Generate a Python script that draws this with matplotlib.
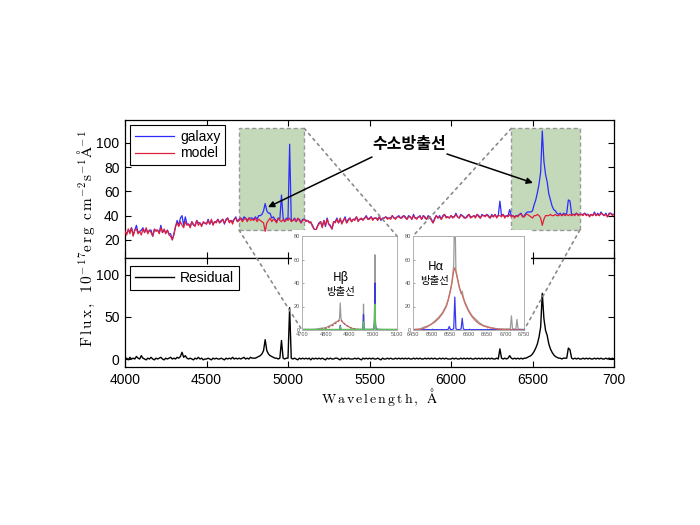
import numpy as np
import matplotlib
matplotlib.use('Agg')
import matplotlib.pyplot as plt
from matplotlib.patches import Rectangle, ConnectionPatch

plt.rcParams['font.family'] = ['Liberation Sans', 'DejaVu Sans']
plt.rcParams['mathtext.fontset'] = 'cm'

# ---------------- data ----------------
WL_START, WL_STOP, WL_STEP = 4000, 7000, 10

# stellar model flux (10 A sampling, 4000..7000)
MODEL = [
    27, 24, 29, 25, 30, 23, 28, 29, 25, 27,   # 4000
    24, 29, 26, 30, 25, 28, 26, 23, 29, 27,   # 4100
    28, 25, 30, 26, 29, 25, 28, 24, 23, 20,   # 4200
    24, 31, 34, 31, 35, 32, 30, 35, 32, 33,   # 4300
    30, 35, 33, 31, 36, 32, 34, 31, 35, 34,   # 4400
    33, 36, 33, 37, 32, 35, 34, 37, 34, 35,   # 4500
    37, 34, 36, 38, 34, 36, 33, 37, 38, 35,   # 4600
    36, 38, 35, 37, 38, 35, 38, 36, 37, 36,   # 4700
    38, 35, 37, 36, 35, 34, 27, 34, 36, 38,   # 4800
    35, 37, 36, 34, 38, 36, 35, 37, 35, 37,   # 4900
    36, 38, 35, 36, 37, 35, 38, 36, 34, 36,   # 5000
    37, 35, 36, 34, 35, 31, 29, 27, 31, 33,   # 5100
    35, 30, 36, 32, 37, 33, 31, 29, 35, 34,   # 5200
    37, 34, 38, 33, 36, 38, 34, 36, 38, 35,   # 5300
    37, 36, 39, 35, 37, 38, 36, 38, 39, 37,   # 5400
    37, 39, 36, 38, 38, 36, 39, 37, 37, 38,   # 5500
    39, 37, 38, 37, 40, 38, 37, 39, 39, 38,   # 5600
    38, 40, 38, 37, 39, 39, 37, 40, 38, 37,   # 5700
    39, 39, 37, 40, 38, 37, 39, 39, 36, 34,   # 5800
    37, 40, 38, 39, 37, 39, 41, 38, 39, 38,   # 5900
    40, 38, 39, 41, 39, 38, 40, 40, 38, 38,   # 6000
    39, 41, 38, 39, 40, 38, 41, 39, 38, 40,   # 6100
    40, 39, 41, 39, 38, 40, 39, 41, 38, 40,   # 6200
    40, 39, 41, 38, 40, 39, 41, 39, 40, 38,   # 6300
    40, 39, 41, 41, 39, 39, 41, 41, 40, 39,   # 6400
    38, 40, 40, 41, 40, 38, 32, 37, 40, 40,   # 6500
    40, 41, 40, 40, 41, 40, 40, 41, 40, 41,   # 6600
    40, 41, 40, 41, 40, 41, 40, 42, 40, 41,   # 6700
    41, 40, 42, 40, 41, 39, 41, 40, 42, 40,   # 6800
    41, 40, 42, 41, 40, 41, 39, 41, 42, 40,   # 6900
    41,                                       # 7000
]

# residual = galaxy - model (emission lines)
RESIDUAL = [
    0, 1, -1, 2, 0, 1, 0, 3, 1, 0,            # 4000
    4, 1, 0, -1, 1, 0, 2, 0, -1, 1,           # 4100
    0, 1, 2, 0, -1, 1, 0, 1, 2, 0,            # 4200
    1, 0, 2, 1, 3, 8, 2, 4, 1, 0,             # 4300
    1, 0, -1, 1, 0, 2, 0, 1, -1, 0,           # 4400
    0, 1, 0, -1, 1, 0, 1, 0, 0, 1,            # 4500
    0, -1, 1, 0, 1, 0, 2, 0, 1, 0,            # 4600
    1, 0, 1, 2, 0, 1, 0, 2, 1, 1,             # 4700
    1, 2, 3, 4, 6, 10, 23, 10, 6, 4,          # 4800
    3, 2, 1, 1, 0, 1, 22, 1, 0, 1,            # 4900
    1, 61, 1, 0, 1, 0, -1, 1, 0, 1,           # 5000
    0, 1, 0, 1, -1, 1, 0, 1, 0, 1,            # 5100
    0, 1, 0, -1, 1, 0, 1, 0, 0, 1,            # 5200
    1, 0, -1, 1, 0, 1, 0, 1, 0, 0,            # 5300
    0, 1, 0, 1, 0, -1, 1, 0, 1, 0,            # 5400
    1, 0, 1, 0, 0, 1, 0, -1, 1, 0,            # 5500
    0, 1, 0, 1, 0, 0, 1, 0, 1, 0,             # 5600
    1, 0, 1, 0, 1, 0, 0, 1, 0, 1,             # 5700
    0, 1, 0, 0, 1, 0, 1, 0, 1, 0,             # 5800
    1, 0, 0, 1, 0, 1, 0, 1, 0, 0,             # 5900
    0, 1, 0, 1, 0, 0, 1, 0, 1, 0,             # 6000
    1, 0, 1, 0, 0, 1, 0, 1, 0, 1,             # 6100
    0, 1, 0, 1, 0, 1, 0, 0, 1, 0,             # 6200
    12, 1, 0, 1, 0, 1, 4, 1, 0, 1,            # 6300
    0, 1, 0, 1, 0, 1, 1, 2, 3, 4,             # 6400
    6, 9, 13, 18, 26, 38, 78, 48, 34, 28,     # 6500
    18, 12, 8, 5, 3, 2, 1, 1, 0, 1,           # 6600
    1, 1, 13, 11, 1, 0, 1, 0, 1, 0,           # 6700
    0, 1, 0, 1, 0, 1, 0, 0, 1, 0,             # 6800
    1, 0, 1, 0, 0, 1, 0, 1, 0, 1,             # 6900
    0,                                        # 7000
]

XTICKS = [4000, 4500, 5000, 5500, 6000, 6500, 7000]
XTICK_LABELS = ['4000', '4500', '5000', '5500', '6000', '6500', '700']
TOP_YTICKS = [20, 40, 60, 80, 100]
BOT_YTICKS = [0, 50, 100]

# zoom regions (wavelength ranges of green boxes, flux range)
BOX1 = (4700, 5100)
BOX2 = (6370, 6790)
BOX_Y = (28, 112)

# H-beta inset (decomposition)
HB_WL = [4700, 4720, 4740, 4760, 4780, 4800, 4810, 4820, 4830, 4840, 4850, 4855,
         4858, 4861, 4864, 4867, 4870, 4880, 4890, 4900, 4910, 4920, 4940, 4955,
         4957, 4959, 4961, 4963, 4980, 5000, 5003, 5005, 5007, 5009, 5011, 5020,
         5040, 5060, 5080, 5100]
HB_DATA = [0.5, 0.6, 0.5, 0.8, 1.5, 2.0, 3.0, 4.0, 5.0, 6.5, 7.5, 8.0,
           10, 23, 10, 8.0, 7.0, 5.0, 3.5, 2.5, 1.5, 1.0, 0.6, 0.8,
           3.0, 22, 3.0, 0.8, 0.6, 0.8, 2.0, 10, 64, 10, 2.0, 0.8,
           0.5, 0.5, 0.4, 0.5]
HB_BROAD = [0, 0, 0.1, 0.3, 0.8, 1.5, 2.2, 3.0, 4.0, 5.5, 7.0, 7.8,
            8.2, 8.4, 8.2, 7.8, 7.0, 5.0, 3.5, 2.3, 1.5, 1.0, 0.4, 0.2,
            0.2, 0.2, 0.1, 0.1, 0, 0, 0, 0, 0, 0, 0, 0,
            0, 0, 0, 0]
HB_NARROW = [0, 0, 0, 0, 0, 0, 0, 0, 0, 0, 0, 0,
             0.5, 4, 0.5, 0, 0, 0, 0, 0, 0, 0, 0, 0,
             1.0, 13, 1.0, 0, 0, 0, 1.0, 6, 40, 6, 1.0, 0,
             0, 0, 0, 0]
HB_WING = [0.5, 0.5, 0.5, 0.5, 0.5, 0.5, 0.5, 0.5, 0.5, 0.5, 0.5, 0.5,
           0.8, 3, 0.8, 0.5, 0.5, 0.5, 0.5, 0.5, 0.5, 0.5, 0.5, 0.5,
           1.0, 7, 1.0, 0.5, 0.5, 0.5, 1.0, 4, 22, 4, 1.0, 0.5,
           0.5, 0.5, 0.5, 0.5]

# H-alpha inset
HA_WL = [6450, 6470, 6480, 6490, 6500, 6510, 6520, 6530, 6540, 6545, 6548, 6551,
         6555, 6560, 6563, 6566, 6570, 6575, 6580, 6583, 6586, 6590, 6600, 6610,
         6620, 6630, 6640, 6650, 6660, 6680, 6700, 6713, 6716, 6719, 6728, 6731,
         6734, 6750]
HA_DATA = [0.5, 1.0, 2.5, 3.5, 5.0, 8.0, 11, 15, 21, 26, 30, 34,
           40, 55, 110, 50, 44, 36, 31, 33, 28, 24, 17, 12,
           9.0, 6.0, 4.0, 3.0, 2.0, 1.0, 0.8, 1.0, 12, 1.0, 0.8, 9.0,
           0.8, 0.5]
HA_BROAD = [0, 0.6, 1.5, 3.0, 5.0, 7.0, 10, 14, 20, 25, 29, 33,
            40, 50, 53, 50, 44, 37, 32, 30, 27, 23, 16, 11,
            7.5, 5.0, 3.5, 2.5, 1.7, 0.8, 0.4, 0.2, 0.2, 0.2, 0.1, 0.1,
            0.1, 0]
HA_NARROW = [0.3, 0.3, 0.3, 0.3, 0.3, 0.3, 0.3, 0.3, 0.3, 0.5, 3.0, 0.5,
             0.3, 1.0, 28, 1.0, 0.3, 0.3, 0.8, 10, 0.8, 0.3, 0.3, 0.3,
             0.3, 0.3, 0.3, 0.3, 0.3, 0.3, 0.3, 0.3, 0.3, 0.3, 0.3, 0.3,
             0.3, 0.3]

# ---------------- figure ----------------
W, H = 700, 525
fig = plt.figure(figsize=(7, 5.25), dpi=100)


def fx(px):
    return px / W


def fy(py):
    return 1 - py / H


wl = np.arange(WL_START, WL_STOP + 1, WL_STEP)
model = np.array(MODEL, float)
resid = np.array(RESIDUAL, float)
galaxy = model + resid

L, R = 125, 614
ax_top = fig.add_axes([fx(L), fy(258), fx(R - L), fy(120) - fy(258)])
ax_bot = fig.add_axes([fx(L), fy(367), fx(R - L), fy(258) - fy(367)])

BLUE = '#2b2bff'
RED = '#e0203a'

for b in (BOX1, BOX2):
    ax_top.add_patch(Rectangle((b[0], BOX_Y[0]), b[1] - b[0], BOX_Y[1] - BOX_Y[0],
                               facecolor='#c4d9b9', edgecolor='#999999', lw=1.0,
                               ls=(0, (3, 2)), zorder=0.5))

ax_top.plot(wl, galaxy, color=BLUE, lw=0.9, label='galaxy', zorder=2)
ax_top.plot(wl, model, color=RED, lw=0.9, label='model', zorder=3)
ax_top.set_xlim(WL_START, WL_STOP)
ax_top.set_ylim(5, 119)
ax_top.set_yticks(TOP_YTICKS)
ax_top.set_xticks(XTICKS)
ax_top.tick_params(labelbottom=False)

ax_bot.plot(wl, resid, color='k', lw=1.0, label='Residual')
ax_bot.set_xlim(WL_START, WL_STOP)
ax_bot.set_ylim(-9.5, 120)
ax_bot.set_yticks(BOT_YTICKS)
ax_bot.set_xticks(XTICKS)
ax_bot.set_xticklabels(XTICK_LABELS)

for ax in (ax_top, ax_bot):
    ax.tick_params(direction='in', top=True, right=True, length=4, width=0.8,
                   labelsize=10, pad=4)
    for s in ax.spines.values():
        s.set_linewidth(0.9)

leg_kw = dict(loc='upper left', frameon=True, fancybox=False, framealpha=1,
              edgecolor='k', fontsize=10, handlelength=2.8, handletextpad=0.45,
              borderaxespad=0, labelspacing=0.2, borderpad=0.35)
lg1 = ax_top.legend(bbox_to_anchor=(0.01, 0.965), **leg_kw)
lg2 = ax_bot.legend(bbox_to_anchor=(0.01, 0.927), **leg_kw)
for lg in (lg1, lg2):
    lg.get_frame().set_linewidth(0.8)

# white background of the inserted zoom panels
fig.patches.append(Rectangle((fx(292), fy(336)), fx(531 - 292), fy(230) - fy(336),
                             transform=fig.transFigure, facecolor='white',
                             edgecolor='none', zorder=0.6))

ins1 = fig.add_axes([fx(302), fy(330), fx(397 - 302), fy(236) - fy(330)])
ins2 = fig.add_axes([fx(413), fy(330), fx(524 - 413), fy(236) - fy(330)])
for ins in (ins1, ins2):
    ins.set_zorder(1)
    ins.set_ylim(0, 80)
    ins.set_yticks([0, 20, 40, 60, 80])
    ins.tick_params(labelsize=4, colors='#555555', length=1.5, width=0.4, pad=1.5,
                    direction='in')
    for s in ins.spines.values():
        s.set_color('#b0b0b0')
        s.set_linestyle((0, (1, 1)))
        s.set_linewidth(0.7)

ins1.plot(HB_WL, HB_DATA, color='#9a9a9a', lw=0.9)
ins1.plot(HB_WL, HB_BROAD, color='#c8504a', lw=0.9, ls=(0, (2, 1)))
ins1.plot(HB_WL, HB_NARROW, color='#3a3add', lw=0.9)
ins1.plot(HB_WL, HB_WING, color='#5fbf5f', lw=0.9)
ins1.set_xlim(4700, 5100)
ins1.set_xticks([4700, 4800, 4900, 5000, 5100])

ins2.plot(HA_WL, HA_DATA, color='#9a9a9a', lw=0.9)
ins2.plot(HA_WL, HA_NARROW, color='#3a3aee', lw=0.9)
ins2.plot(HA_WL, HA_BROAD, color='#d06a60', lw=0.9)
ins2.set_xlim(6450, 6750)
ins2.set_xticks(list(range(6450, 6751, 50)))

cp_kw = dict(color='#8a8a8a', lw=1.2, ls=(0, (1.5, 2.5)), zorder=2)
for xyA, ins, xyB in [((BOX1[0], BOX_Y[0]), ins1, (0, 0)),
                      ((BOX1[1], BOX_Y[1]), ins1, (1, 1)),
                      ((BOX2[0], BOX_Y[1]), ins2, (0, 1)),
                      ((BOX2[1], BOX_Y[0]), ins2, (1, 0))]:
    cp = ConnectionPatch(xyA=xyA, coordsA=ax_top.transData, xyB=xyB,
                         coordsB=ins.transAxes, **cp_kw)
    fig.add_artist(cp)

KR = ['Noto Sans CJK KR', 'DejaVu Sans']
fig.text(fx(409), fy(144), '수소방출선', family=KR, fontsize=11.5, weight='bold',
         ha='center', va='center', zorder=5)
arrow = dict(arrowstyle='-|>', color='k', lw=1.1, mutation_scale=9, shrinkA=0, shrinkB=0)
ax_top.annotate('', xy=(4877, 47), xycoords='data', xytext=(fx(372), fy(157)),
                textcoords='figure fraction', arrowprops=arrow, zorder=5)
ax_top.annotate('', xy=(6503, 67), xycoords='data', xytext=(fx(447), fy(154)),
                textcoords='figure fraction', arrowprops=arrow, zorder=5)

fig.text(fx(341), fy(277), 'Hβ', family=KR, fontsize=8.5, ha='center', va='center', zorder=5)
fig.text(fx(341), fy(292), '방출선', family=KR, fontsize=7.5, ha='center', va='center', zorder=5)
fig.text(fx(436), fy(266), 'Hα', family=KR, fontsize=8.5, ha='center', va='center', zorder=5)
fig.text(fx(435), fy(281), '방출선', family=KR, fontsize=7.5, ha='center', va='center', zorder=5)

fig.text(fx(380), fy(397), r'$\mathrm{W\,a\,v\,e\,l\,e\,n\,g\,t\,h\,,\;\;\AA}$',
         fontsize=10, ha='center', va='center')
fig.text(fx(86), fy(238),
         r'$\mathrm{F\,l\,u\,x\,,\;\;1\,0^{-\,1\,7}e\,r\,g\;\;c\,m^{-\,2}s^{-\,1}\AA^{-\,1}}$',
         fontsize=11, rotation=90, ha='center', va='center')

fig.savefig('out.png', dpi=100)
